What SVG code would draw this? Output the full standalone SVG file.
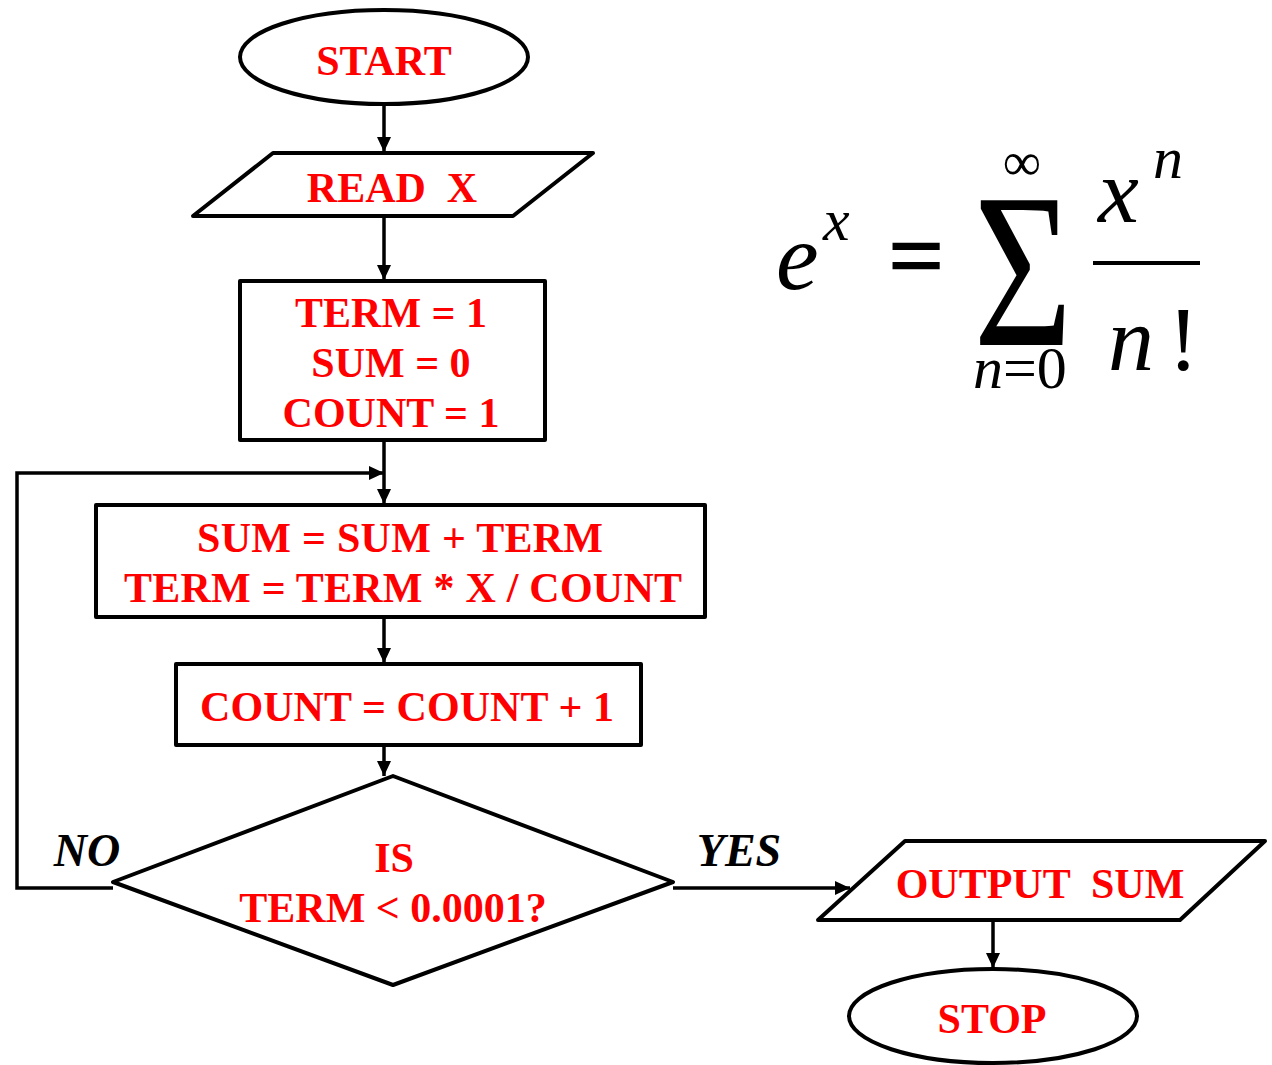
<svg xmlns="http://www.w3.org/2000/svg" width="1272" height="1065" viewBox="0 0 1272 1065">
<style>
.shape{fill:#fff;stroke:#000;stroke-width:4;stroke-linejoin:round}
.lbl{font-family:"Liberation Serif","Times New Roman",serif;font-weight:bold;font-size:42px;fill:#ff0000;text-anchor:middle}
.yn{font-family:"Liberation Serif","Times New Roman",serif;font-weight:bold;font-style:italic;font-size:46px;fill:#000;text-anchor:middle}
.conn{fill:none;stroke:#000;stroke-width:3.5}
.math{font-family:"Liberation Serif","Times New Roman",serif;fill:#000}
.it{font-style:italic}
</style>
<defs>
<marker id="ah" markerUnits="userSpaceOnUse" markerWidth="16" markerHeight="14" refX="15" refY="7" orient="auto">
<path d="M0,0 L15,7 L0,14 Z" fill="#000"/>
</marker>
</defs>
<g id="connectors">
<line class="conn" x1="384" y1="104" x2="384" y2="152" marker-end="url(#ah)"/>
<line class="conn" x1="384" y1="216" x2="384" y2="280" marker-end="url(#ah)"/>
<line class="conn" x1="384" y1="440" x2="384" y2="504" marker-end="url(#ah)"/>
<polyline class="conn" points="113,888 17,888 17,473 384,473" marker-end="url(#ah)"/>
<line class="conn" x1="384" y1="617" x2="384" y2="663" marker-end="url(#ah)"/>
<line class="conn" x1="384" y1="745" x2="384" y2="776" marker-end="url(#ah)"/>
<line class="conn" x1="673" y1="888" x2="850" y2="888" marker-end="url(#ah)"/>
<line class="conn" x1="993" y1="920" x2="993" y2="968" marker-end="url(#ah)"/>
</g>
<g id="start">
<ellipse class="shape" cx="384" cy="57" rx="144" ry="47"/>
<text class="lbl" x="384" y="75">START</text>
</g>
<g id="read">
<polygon class="shape" points="273,153 593,153 513,216 193,216"/>
<text class="lbl" x="392" y="202" xml:space="preserve">READ  X</text>
</g>
<g id="init">
<rect class="shape" x="240" y="281" width="305" height="159"/>
<text class="lbl" x="391" y="327">TERM = 1</text>
<text class="lbl" x="391" y="377">SUM = 0</text>
<text class="lbl" x="391" y="427">COUNT = 1</text>
</g>
<g id="update">
<rect class="shape" x="96" y="505" width="609" height="112"/>
<text class="lbl" x="400" y="552" textLength="406" lengthAdjust="spacing">SUM = SUM + TERM</text>
<text class="lbl" x="403" y="602" textLength="558" lengthAdjust="spacing">TERM = TERM * X / COUNT</text>
</g>
<g id="count">
<rect class="shape" x="176" y="664" width="465" height="81"/>
<text class="lbl" x="407" y="721" textLength="414" lengthAdjust="spacing">COUNT = COUNT + 1</text>
</g>
<g id="decision">
<polygon class="shape" points="393,776 673,882 393,985 113,882"/>
<text class="lbl" x="394" y="872">IS</text>
<text class="lbl" x="393" y="922">TERM &lt; 0.0001?</text>
</g>
<g id="output">
<polygon class="shape" points="905,841 1265,841 1180,920 818,920"/>
<text class="lbl" x="1040" y="898" xml:space="preserve">OUTPUT  SUM</text>
</g>
<g id="stop">
<ellipse class="shape" cx="993" cy="1016" rx="144" ry="47"/>
<text class="lbl" x="992" y="1033">STOP</text>
</g>
<g id="edge-labels">
<text class="yn" x="87" y="866">NO</text>
<text class="yn" x="739" y="866">YES</text>
</g>
<g id="formula">
<text class="math it" x="776" y="289" font-size="96">e</text>
<text class="math it" x="823" y="240" font-size="60">x</text>
<text class="math" x="916" y="288" font-size="96" text-anchor="middle" stroke="#000" stroke-width="2.5">=</text>
<text class="math" x="0" y="0" font-size="162" text-anchor="middle" transform="translate(1023,345) scale(1.05,1.36)">Σ</text>
<text class="math" x="1022" y="180" font-size="54" text-anchor="middle">∞</text>
<text class="math" x="973" y="388" font-size="60"><tspan class="it">n</tspan>=0</text>
<text class="math it" x="1098" y="222" font-size="92">x</text>
<text class="math it" x="1153" y="178" font-size="60">n</text>
<line x1="1093" y1="263" x2="1200" y2="263" stroke="#000" stroke-width="4"/>
<text class="math it" x="1108" y="370" font-size="92">n</text>
<text class="math" x="1168" y="370" font-size="92">!</text>
</g>
</svg>
